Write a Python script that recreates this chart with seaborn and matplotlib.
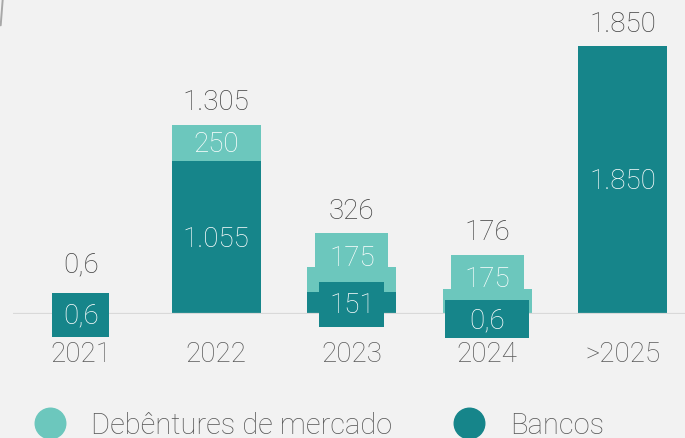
import matplotlib
matplotlib.use("Agg")
import matplotlib.pyplot as plt
from matplotlib.lines import Line2D
from matplotlib.patches import Rectangle
from matplotlib.transforms import IdentityTransform
import pandas as pd
import seaborn as sns

# Maturity schedule (R$ milhões)
categories = ["2021", "2022", "2023", "2024", ">2025"]
bancos = [0.6, 1055, 151, 0.6, 1850]
debentures = [0, 250, 175, 175, 0]
series_names = ["Debêntures de mercado", "Bancos"]

LIGHT = "#6cc7bd"
DARK = "#16858a"
BG = "#f2f2f2"
TXT = "#404040"
TICK = "#595959"
FS = 20

sns.set_theme(style="white")
plt.rcParams["font.family"] = ["Roboto", "DejaVu Sans"]
plt.rcParams["font.weight"] = "light"


def fmt(v):
    if v < 10:
        return f"{v:.1f}".replace(".", ",")
    return f"{int(round(v)):,}".replace(",", ".")


df = pd.DataFrame({"ano": categories, "Bancos": bancos, "Debentures": debentures})
df["Total"] = df["Bancos"] + df["Debentures"]

W, H = 685, 439
fig = plt.figure(figsize=(W / 100, H / 100), dpi=100, facecolor=BG)
ax = fig.add_axes([13 / W, 124 / H, 677.5 / W, 315 / H])
ax.set_facecolor(BG)

# Stacked look: totals in the light colour, bank debt overlaid from the base
sns.barplot(data=df, x="ano", y="Total", color=LIGHT, width=0.66, saturation=1,
            errorbar=None, ax=ax, order=categories, linewidth=0)
sns.barplot(data=df, x="ano", y="Bancos", color=DARK, width=0.66, saturation=1,
            errorbar=None, ax=ax, order=categories, linewidth=0)

ax.set_xlim(-0.5, 4.5)
ax.set_ylim(0, 2175)
ax.axhline(0, color="#d9d9d9", lw=1.6, zorder=1)
for s in ax.spines.values():
    s.set_visible(False)
ax.set_yticks([])
ax.set_xlabel("")
ax.set_ylabel("")
ax.tick_params(axis="x", length=0, pad=19, labelsize=FS, labelcolor=TICK)
for lab in ax.get_xticklabels():
    lab.set_fontweight("light")

# pixel nudges (up = positive) for the in-bar labels and the totals
dark_shift = [-1, -1, -1, -6, 0]
light_shift = [0, 0, 22, 23, 0]
total_gap = [50, 23, 56, 57, 23]
# filled label boxes (w, h, vertical offset from the text) where the segment is too thin
dark_box = [(57, 44, 0), None, (65, 45, 0), (84, 38, 1), None]
light_box = [None, None, (73, 56, -4), (73, 54, -4), None]


def label_box(x, y, dy, spec, color, z):
    if spec is None:
        return
    w, h, off = spec
    cx, cy = ax.transData.transform((x, y))
    cy += dy + off
    r = Rectangle((cx - w / 2, cy - h / 2), w, h, transform=IdentityTransform(),
                  fc=color, ec="none", zorder=z, clip_on=False)
    ax.add_artist(r)


for i, row in df.iterrows():
    b, d, t = row["Bancos"], row["Debentures"], row["Total"]
    if d > 0:
        label_box(i, b + d / 2, light_shift[i], light_box[i], LIGHT, 3)
        ax.annotate(fmt(d), (i, b + d / 2), xytext=(0, light_shift[i]), textcoords="offset pixels",
                    ha="center", va="center", color="white", fontsize=FS, zorder=4,
                    annotation_clip=False)
    label_box(i, b / 2, dark_shift[i], dark_box[i], DARK, 5)
    ax.annotate(fmt(b), (i, b / 2), xytext=(0, dark_shift[i]), textcoords="offset pixels",
                ha="center", va="center", color="white", fontsize=FS, zorder=6,
                annotation_clip=False)
    ax.annotate(fmt(t), (i, t), xytext=(0, total_gap[i]), textcoords="offset pixels",
                ha="center", va="center", color=TXT, fontsize=FS, annotation_clip=False)

handles = [Line2D([], [], marker="o", ls="", markersize=22, color=c) for c in (LIGHT, DARK)]
fig.legend(handles, series_names, loc="center left", bbox_to_anchor=(0.013, 0.03),
           ncol=2, frameon=False, fontsize=21, labelcolor=TICK, handletextpad=0.42,
           columnspacing=1.62, borderaxespad=0)

# thin rounded-frame edge at the top-left corner
fig.add_artist(Line2D([0.004, 0.001], [1.0, 0.94], transform=fig.transFigure,
                      color="#a8a8a8", lw=1.4))

fig.savefig("out.png", dpi=100, facecolor=BG)
